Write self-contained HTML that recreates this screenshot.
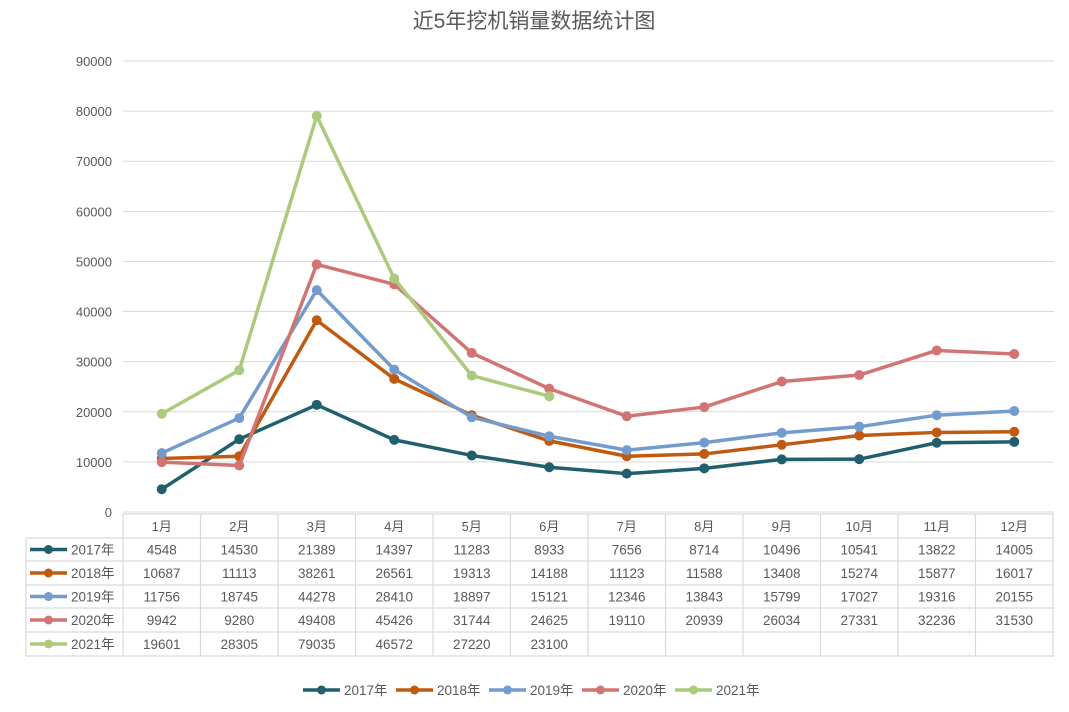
<!DOCTYPE html>
<html><head><meta charset="utf-8"><style>
body{margin:0;background:#fff;}
svg text{font-family:"Liberation Sans","Noto Sans CJK SC",sans-serif;fill:#595959;}
</style></head><body>
<svg id="c" width="1069" height="707" xmlns="http://www.w3.org/2000/svg"></svg>
<script>
const s=document.getElementById('c');
let h='<rect width="1069" height="707" fill="#fff"/>';
h+='<text x="534" y="28" font-size="21" text-anchor="middle" fill="#595959">近5年挖机销量数据统计图</text>';
const y=v=>512-v*451/90000;
for(let k=0;k<=9;k++){const yy=y(k*10000);
 h+=`<line x1="123" x2="1054" y1="${yy}" y2="${yy}" stroke="#d9d9d9" stroke-width="1"/>`;
 h+=`<text x="112" y="${yy+5}" font-size="13" text-anchor="end">${k*10000}</text>`;}
const x=i=>161.75+77.5*i;
const data=[
['2017年','#205f6c',[4548,14530,21389,14397,11283,8933,7656,8714,10496,10541,13822,14005]],
['2018年','#c05a10',[10687,11113,38261,26561,19313,14188,11123,11588,13408,15274,15877,16017]],
['2019年','#749bce',[11756,18745,44278,28410,18897,15121,12346,13843,15799,17027,19316,20155]],
['2020年','#d27474',[9942,9280,49408,45426,31744,24625,19110,20939,26034,27331,32236,31530]],
['2021年','#abca7c',[19601,28305,79035,46572,27220,23100]]];
// table
const rows=[514,538,561,585,608,632,656];
h+=`<g stroke="#d9d9d9" stroke-width="1.2" fill="none">`;
h+=`<line x1="123" x2="1054" y1="514" y2="514"/>`;
for(let r=1;r<rows.length;r++)h+=`<line x1="26" x2="1054" y1="${rows[r]}" y2="${rows[r]}"/>`;
h+=`<line x1="26" x2="26" y1="538" y2="656"/>`;
for(let c=0;c<=12;c++)h+=`<line x1="${123+77.5*c}" x2="${123+77.5*c}" y1="514" y2="656"/>`;
h+='</g>';
const m=['1月','2月','3月','4月','5月','6月','7月','8月','9月','10月','11月','12月'];
m.forEach((t,i)=>h+=`<text x="${x(i)}" y="531" font-size="13" text-anchor="middle">${t}</text>`);
data.forEach((d,r)=>{const cy=(rows[r+1]+rows[r+2])/2;
 h+=`<line x1="30" x2="67" y1="${cy}" y2="${cy}" stroke="${d[1]}" stroke-width="3.5"/><circle cx="48.5" cy="${cy}" r="4.5" fill="${d[1]}"/>`;
 h+=`<text x="71" y="${cy+5}" font-size="13.5">${d[0]}</text>`;
 d[2].forEach((v,i)=>h+=`<text x="${x(i)}" y="${cy+5}" font-size="13.5" text-anchor="middle">${v}</text>`);});
// series
data.forEach(d=>{const p=d[2].map((v,i)=>x(i)+','+y(v)).join(' ');
 h+=`<polyline points="${p}" fill="none" stroke="${d[1]}" stroke-width="3.5" stroke-linejoin="round"/>`;
 d[2].forEach((v,i)=>h+=`<circle cx="${x(i)}" cy="${y(v)}" r="5" fill="${d[1]}"/>`);});
// legend
let lx=303;
data.forEach(d=>{h+=`<line x1="${lx}" x2="${lx+37}" y1="690" y2="690" stroke="${d[1]}" stroke-width="3.5"/><circle cx="${lx+18.5}" cy="690" r="4.5" fill="${d[1]}"/><text x="${lx+41}" y="695" font-size="13.5">${d[0]}</text>`;lx+=93;});
s.innerHTML=h;
</script>
</body></html>
